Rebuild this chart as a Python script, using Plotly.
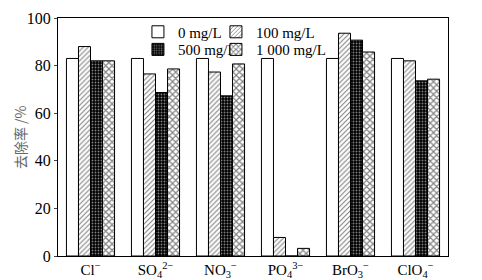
import plotly.graph_objects as go

categories = ["Cl<sup>−</sup>", "SO<sub>4</sub><sup>2−</sup>", "NO<sub>3</sub><sup>−</sup>",
              "PO<sub>4</sub><sup>3−</sup>", "BrO<sub>3</sub><sup>−</sup>", "ClO<sub>4</sub><sup>−</sup>"]
series_names = ["0 mg/L", "100 mg/L", "500 mg/L", "1 000 mg/L"]
v0 = [83, 83, 83, 83, 83, 83]
v100 = [88, 76.5, 77.3, 7.8, 93.6, 82]
v500 = [82, 68.7, 67.3, 0, 90.7, 73.6]
v1000 = [82, 78.6, 80.7, 3.2, 85.7, 74.3]
yticks = [0, 20, 40, 60, 80, 100]
y_title = "去除率 /%"

FONT = "Liberation Serif"
fig = go.Figure()
styles = [
    dict(color="white", pattern=dict(shape="")),
    dict(color="white", pattern=dict(shape="/", fgcolor="black", bgcolor="white", size=3.5, solidity=0.3)),
    dict(color="black", pattern=dict(shape=".", fgcolor="white", bgcolor="black", size=3, solidity=0.3)),
    dict(color="white", pattern=dict(shape="x", fgcolor="black", bgcolor="white", size=4.5, solidity=0.45)),
]
legends = ["legend", "legend2", "legend3", "legend4"]
for name, vals, st, lg in zip(series_names, [v0, v100, v500, v1000], styles, legends):
    fig.add_trace(go.Bar(
        x=categories, y=vals, name=name, legend=lg,
        marker=dict(color=st["color"], pattern=st["pattern"], line=dict(color="black", width=1)),
    ))

def leg(x, y):
    return dict(
        bgcolor="rgba(0,0,0,0)", font=dict(family=FONT, size=15, color="black"),
        x=x, xanchor="left", y=y, yanchor="middle", itemwidth=30,
    )

# page body has an 8px margin, so the figure is sized/offset to place the plot area as in the reference
fig.update_layout(
    width=474, height=272,
    margin=dict(l=50, r=34, t=8, b=24),
    paper_bgcolor="white", plot_bgcolor="white",
    barmode="group", bargap=0.26, bargroupgap=0,
    font=dict(family=FONT, size=15, color="black"),
    legend=leg(0.205, 0.941),
    legend2=leg(0.405, 0.941),
    legend3=leg(0.205, 0.867),
    legend4=leg(0.405, 0.867),
    showlegend=True,
)
fig.update_xaxes(
    showline=True, linecolor="black", linewidth=1, mirror=True, automargin=False,
    ticks="", showgrid=False, tickfont=dict(family=FONT, size=15),
)
fig.update_yaxes(
    range=[0, 100], tickvals=yticks, showline=True, linecolor="black", linewidth=1,
    mirror=True, ticks="outside", ticklen=3, showgrid=False, zeroline=False, automargin=False,
    tickfont=dict(family=FONT, size=16),
)
fig.add_annotation(
    text=y_title, xref="paper", yref="paper", x=-0.0974, y=0.5, xanchor="center", yanchor="middle",
    textangle=-90, showarrow=False, font=dict(family="Noto Sans CJK SC", size=14, color="#666666"),
)
fig.write_html("out.html")
